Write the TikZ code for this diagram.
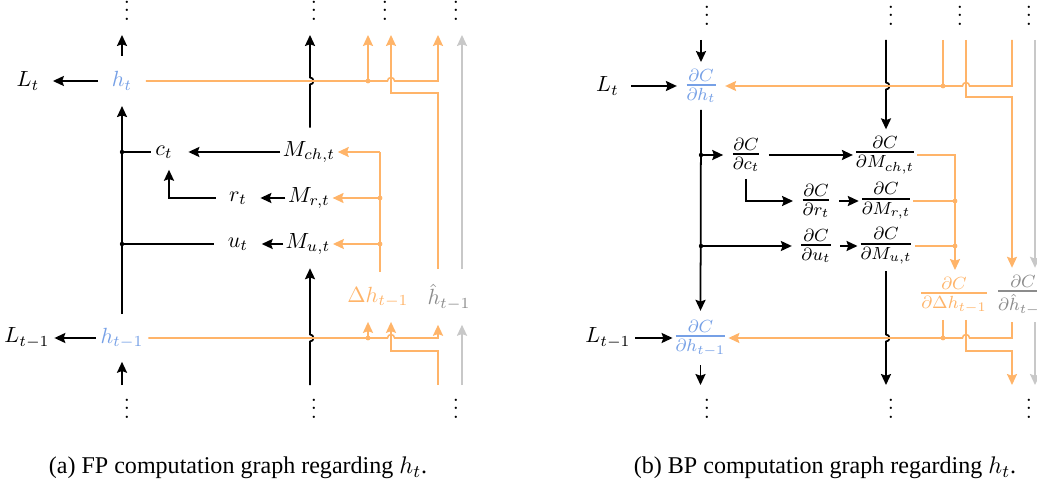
\documentclass[tikz,border=0pt]{standalone}
\usepackage{amsmath}
\usepackage{fontspec}
\newfontfamily\capfont{Liberation Serif}
\usetikzlibrary{arrows.meta,calc}
\definecolor{blueC}{RGB}{118,160,230}
\definecolor{orangeC}{RGB}{255,180,105}
\definecolor{grayL}{RGB}{200,200,200}
\definecolor{grayT}{RGB}{140,140,140}
\newcommand{\pf}[2]{\genfrac{}{}{1pt}{}{#1}{#2}}
\begin{document}
\begin{tikzpicture}[x=0.016cm,y=-0.016cm,
  blk/.style={draw=black,line width=0.8pt},
  org/.style={draw=orangeC,line width=0.7pt},
  gry/.style={draw=grayL,line width=0.7pt},
  arr/.style={-{Stealth[length=5pt,width=4.6pt,inset=0.8pt]}},
  lab/.style={inner xsep=6pt,inner ysep=6pt},
  mlab/.style={inner xsep=1pt,inner ysep=6pt},
  fr/.style={inner xsep=3pt,inner ysep=3pt,font=\fontsize{11.5}{14}\selectfont},
  mfr/.style={inner xsep=0pt,inner ysep=3pt,font=\fontsize{11.5}{14}\selectfont},
  vd/.style={inner sep=0pt,anchor=south},
  captxt/.style={font=\fontsize{10.95}{13}\capfont,inner sep=0pt}]
\clip (0,0) rectangle (1037,488);
% ---------- helper coordinates (a) ----------
\coordinate (topA) at (0,35);
\coordinate (botA) at (0,385);
\coordinate (jog1) at (0,93);
\coordinate (jog2) at (0,351);
\coordinate (mcol) at (310,0);
\coordinate (oA) at (368,0);
\coordinate (oB) at (391,0);
\coordinate (oC) at (438,0);
\coordinate (oD) at (380,0);
\coordinate (gX) at (462,0);
% ---------- helper coordinates (b) ----------
\coordinate (topR) at (0,40);
\coordinate (jogR1) at (0,97);
\coordinate (jogR2) at (0,351);
\coordinate (Rmcol) at (886,0);
\coordinate (RoA) at (943,0);
\coordinate (RoB) at (966,0);
\coordinate (RoC) at (1012,0);
\coordinate (RoD) at (955,0);
\coordinate (RgX) at (1035,0);

% ================= (a) =================
\node[vd] (va1) at (127,21.2) {$\vdots$};
\node[vd] (va2) at (314,21.2) {$\vdots$};
\node[vd] (va3) at (385,21.2) {$\vdots$};
\node[vd] (va4) at (456,21.2) {$\vdots$};
\node[vd] (vb1) at (127,419.2) {$\vdots$};
\node[vd] (vb2) at (314,419.2) {$\vdots$};
\node[vd] (vb3) at (456,419.2) {$\vdots$};

\node[lab] (Lt) at (28,81) {$L_t$};
\node[lab,inner ysep=7pt,text=blueC] (ht) at (122,81) {$h_t$};
\node[lab,inner xsep=2pt,inner ysep=5pt] (ct) at (164,152) {$c_t$};
\node[mlab] (Mch) at (309,152) {$M_{ch,t}$};
\node[lab] (rt) at (238,198) {$r_t$};
\node[mlab] (Mr) at (309,198) {$M_{r,t}$};
\node[lab] (ut) at (238,244) {$u_t$};
\node[mlab] (Mu) at (308,244) {$M_{u,t}$};
\node[lab,inner ysep=6.5pt,text=orangeC] (dh) at (378,297) {$\Delta h_{t-1}$};
\node[lab,inner ysep=6.5pt,text=grayT] (hh) at (449,297) {$\hat{h}_{t-1}$};
\node[lab,inner xsep=2pt] (Ltm) at (27,338) {$L_{t-1}$};
\node[lab,inner xsep=2pt,text=blueC] (htm) at (122,338) {$h_{t-1}$};

% black connectors (a)
\draw[blk,arr] (ht.west) -- (Lt.east);
\draw[blk,arr] (htm.west) -- (Ltm.east);
\draw[blk,arr] (ht.north) -- (ht.north |- topA);
\draw[blk,arr] (htm.north) -- (ht.south);
\draw[blk,arr] (htm.south |- botA) -- (htm.south);
\draw[blk] (ht.south |- ct) -- (ct.west);
\draw[blk] (ht.south |- ut) -- (ut.west);
\fill (ht.south |- ct) circle (1pt);
\fill (ht.south |- ut) circle (1pt);
\draw[blk,arr,shorten >=5pt] (Mch.west) -- (ct.east);
\draw[blk,arr] (rt.west) -| ($(ct.south)+(5,0)$);
\draw[blk,arr] (Mr.west) -- (rt.east);
\draw[blk,arr] (Mu.west) -- (ut.east);
\draw[blk,arr] (mcol |- Mch.north) -- ($(mcol |- ht)+(0,3.5)$)
  arc[start angle=-90,end angle=90,radius=1.6pt] -- (mcol |- topA);
\draw[blk,arr] (mcol |- botA) -- ($(mcol |- htm)+(0,3.5)$)
  arc[start angle=-90,end angle=90,radius=1.6pt] -- (mcol |- Mu.south);

% orange / gray connectors (a), top
\draw[org,arr] (ht.east) -- ($(oB |- ht)+(-3.5,0)$)
  arc[start angle=180,end angle=0,radius=1.6pt] -- (oC |- ht) -- (oC |- topA);
\draw[org,arr] (oA |- ht) -- (oA |- topA);
\fill[orangeC] (oA |- ht) circle (1.1pt);
\draw[org,arr] (oC |- hh.north) -- (oC |- jog1) -- (oB |- jog1) -- (oB |- topA);
\draw[gry,arr] (gX |- hh.north) -- (gX |- topA);
\draw[org] (oD |- dh.north) -- (oD |- Mch);
\draw[org,arr] (oD |- Mch) -- (Mch.east);
\draw[org,arr] (oD |- Mr) -- (Mr.east);
\draw[org,arr] (oD |- Mu) -- (Mu.east);
\fill[orangeC] (oD |- Mr) circle (1.1pt);
\fill[orangeC] (oD |- Mu) circle (1.1pt);
% bottom
\draw[org,arr] (htm.east) -- ($(oB |- htm)+(-3.5,0)$)
  arc[start angle=180,end angle=0,radius=1.6pt] -- (oC |- htm) -- (oC |- hh.south);
\draw[org,arr] (oA |- htm) -- (oA |- dh.south);
\fill[orangeC] (oA |- htm) circle (1.1pt);
\draw[org,arr] (oC |- botA) -- (oC |- jog2) -- (oB |- jog2) -- (oB |- dh.south);
\draw[gry,arr] (gX |- botA) -- (gX |- hh.south);

% ================= (b) =================
\node[vd] (wa1) at (707,26.2) {$\vdots$};
\node[vd] (wa2) at (891,26.2) {$\vdots$};
\node[vd] (wa3) at (960,26.2) {$\vdots$};
\node[vd] (wa4) at (1029,26.2) {$\vdots$};
\node[vd] (wb1) at (707,419.2) {$\vdots$};
\node[vd] (wb2) at (891,419.2) {$\vdots$};
\node[vd] (wb3) at (1029,419.2) {$\vdots$};

\node[lab,inner xsep=5.5pt] (RLt) at (607.5,86) {$L_t$};
\node[fr,inner xsep=3pt,text=blueC] (Rht) at (701,86) {$\pf{\partial C}{\partial h_t}$};
\node[fr] (Rct) at (746,155) {$\pf{\partial C}{\partial c_t}$};
\node[mfr] (RMch) at (885,155) {$\pf{\partial C}{\partial M_{ch,t}}$};
\node[fr] (Rrt) at (816,201) {$\pf{\partial C}{\partial r_t}$};
\node[mfr] (RMr) at (886,201) {$\pf{\partial C}{\partial M_{r,t}}$};
\node[fr] (Rut) at (816,246) {$\pf{\partial C}{\partial u_t}$};
\node[mfr] (RMu) at (886,246) {$\pf{\partial C}{\partial M_{u,t}}$};
\node[fr,text=orangeC] (Rdh) at (954,295) {$\pf{\partial C}{\partial \Delta h_{t-1}}$};
\node[fr,text=grayT] (Rhh) at (1023,295) {$\pf{\partial C}{\partial \hat{h}_{t-1}}$};
\node[lab,inner xsep=2pt] (RLtm) at (608,338) {$L_{t-1}$};
\node[fr,inner xsep=0pt,inner ysep=4pt,text=blueC] (Rhtm) at (700.5,338) {$\pf{\partial C}{\partial h_{t-1}}$};

% black connectors (b)
\draw[blk,arr] (RLt.east) -- (Rht.west);
\draw[blk,arr] (RLtm.east) -- (Rhtm.west);
\draw[blk,arr] (Rht.north |- topR) -- (Rht.north);
\draw[blk,arr] (Rht.south) -- (Rhtm.north);
\draw[blk,arr] (Rhtm.south) -- (Rhtm.south |- botA);
\draw[blk,arr] (Rht.south |- Rct) -- (Rct.west);
\draw[blk,arr] (Rht.south |- Rut) -- (Rut.west);
\fill (Rht.south |- Rct) circle (1pt);
\fill (Rht.south |- Rut) circle (1pt);
\draw[blk,arr] (Rct.east) -- (RMch.west);
\draw[blk,arr] (Rct.south) |- (Rrt.west);
\draw[blk,arr] (Rrt.east) -- (RMr.west);
\draw[blk,arr] (Rut.east) -- (RMu.west);
\draw[blk,arr] (Rmcol |- topR) -- ($(Rmcol |- Rht)+(0,-3.5)$)
  arc[start angle=90,end angle=-90,radius=1.6pt] -- (Rmcol |- RMch.north);
\draw[blk,arr] (Rmcol |- RMu.south) -- ($(Rmcol |- Rhtm)+(0,-3.5)$)
  arc[start angle=90,end angle=-90,radius=1.6pt] -- (Rmcol |- botA);

% orange / gray connectors (b), top
\draw[org,arr] (RoC |- topR) -- (RoC |- Rht) -- ($(RoB |- Rht)+(3.5,0)$)
  arc[start angle=0,end angle=180,radius=1.6pt] -- (Rht.east);
\draw[org] (RoA |- topR) -- (RoA |- Rht);
\fill[orangeC] (RoA |- Rht) circle (1.1pt);
\draw[org,arr] (RoB |- topR) -- (RoB |- jogR1) -- (RoC |- jogR1) -- (RoC |- Rhh.north);
\draw[gry,arr] (RgX |- topR) -- (RgX |- Rhh.north);
\draw[org,arr] (RMch.east) -- (RoD |- RMch) -- (RoD |- Rdh.north);
\draw[org] (RMr.east) -- (RoD |- RMr);
\draw[org] (RMu.east) -- (RoD |- RMu);
\fill[orangeC] (RoD |- RMr) circle (1.1pt);
\fill[orangeC] (RoD |- RMu) circle (1.1pt);
% bottom
\draw[org,arr] (RoC |- Rhh.south) -- (RoC |- Rhtm) -- ($(RoB |- Rhtm)+(3.5,0)$)
  arc[start angle=0,end angle=180,radius=1.6pt] -- (Rhtm.east);
\draw[org] (RoA |- Rdh.south) -- (RoA |- Rhtm);
\fill[orangeC] (RoA |- Rhtm) circle (1.1pt);
\draw[org,arr] (RoB |- Rdh.south) -- (RoB |- jogR2) -- (RoC |- jogR2) -- (RoC |- botA);
\draw[gry,arr] (RgX |- Rhh.south) -- (RgX |- botA);

% captions
\node[captxt] (capa) at (238,468) {(a) FP computation graph regarding $h_t$.};
\node[captxt] (capb) at (825,468) {(b) BP computation graph regarding $h_t$.};
\end{tikzpicture}
\end{document}
